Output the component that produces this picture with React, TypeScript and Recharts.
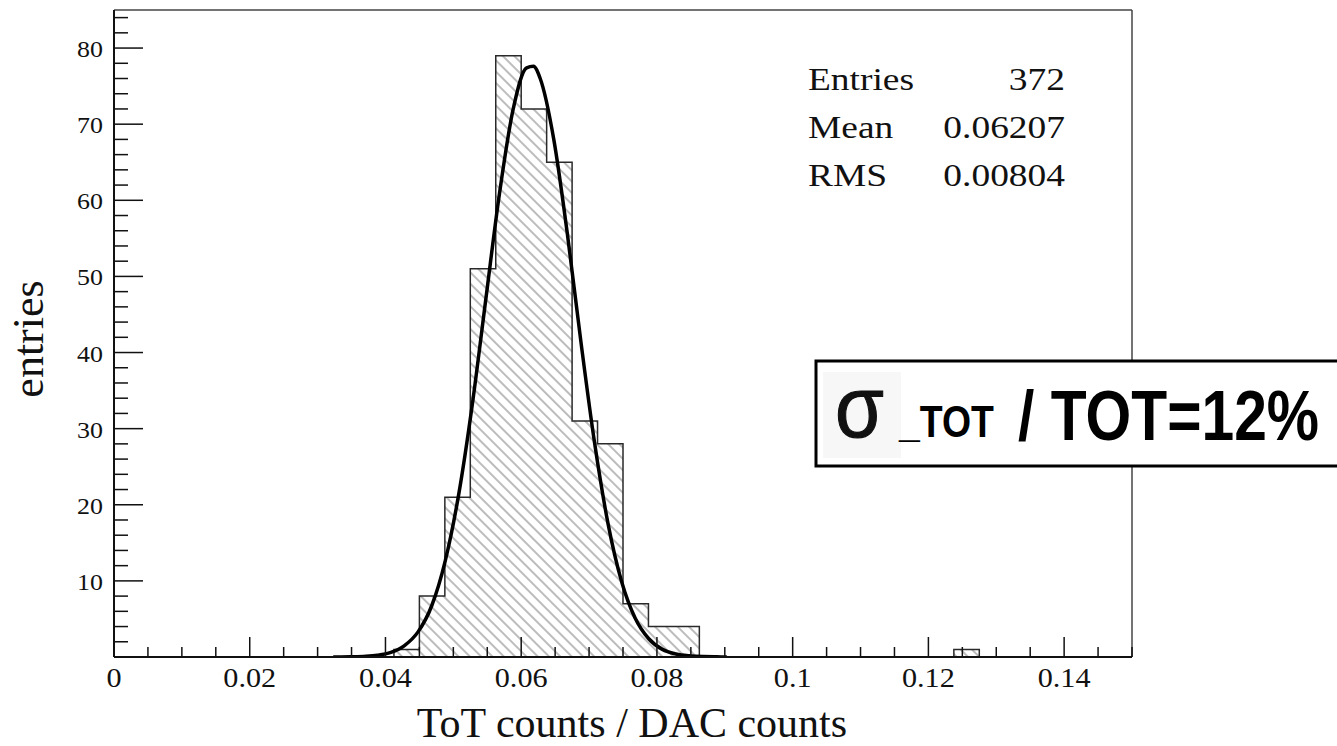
import React from 'react';
import { ComposedChart, XAxis, YAxis, Area, Line, ReferenceLine } from 'recharts';

// histogram: 40 bins over 0 .. 0.15, only filled bins listed
const binWidth = 0.00375;
const binLow = [0.04125, 0.045, 0.04875, 0.0525, 0.05625, 0.06, 0.06375, 0.0675, 0.07125, 0.075, 0.07875, 0.0825, 0.12375];
const binCount = [1, 8, 21, 51, 79, 72, 65, 31, 28, 7, 4, 4, 1];

// gaussian fit curve
const fitX = [0.0323, 0.0348, 0.0368, 0.0388, 0.0408, 0.0428, 0.0448, 0.0468, 0.0488, 0.0508, 0.0528, 0.0548, 0.0568, 0.0588, 0.0608, 0.0618, 0.0628, 0.0648, 0.0668, 0.0688, 0.0708, 0.0728, 0.0748, 0.0768, 0.0788, 0.0808, 0.0828, 0.0848, 0.0868, 0.0888, 0.0903];
const fitY = [0.01, 0.02, 0.08, 0.22, 0.6, 1.5, 3.3, 6.7, 12.6, 21.4, 33.2, 47.1, 60.9, 71.9, 77.4, 77.6, 76.0, 68.0, 55.6, 41.4, 28.2, 17.5, 9.9, 5.1, 2.4, 1.0, 0.4, 0.15, 0.05, 0.02, 0.01];

const xMajor = [0, 0.02, 0.04, 0.06, 0.08, 0.1, 0.12, 0.14];
const xLabels = ['0', '0.02', '0.04', '0.06', '0.08', '0.1', '0.12', '0.14'];
const yMajor = [10, 20, 30, 40, 50, 60, 70, 80];

const statLabels = ['Entries', 'Mean', 'RMS'];
const statValues = ['372', '0.06207', '0.00804'];

const X_MAX = 0.15;
const Y_MAX = 85;
const nBins = Math.round(X_MAX / binWidth);

const counts: number[] = new Array(nBins).fill(0);
binLow.forEach((lo, i) => {
  counts[Math.round(lo / binWidth)] = binCount[i];
});
const histData = [];
for (let i = 0; i <= nBins; i++) {
  histData.push({ x: i * binWidth, h: i < nBins ? counts[i] : 0 });
}
const fitData = fitX.map((x, i) => ({ x, y: fitY[i] }));

const xTicks: number[] = [];
for (let i = 0; i <= 30; i++) xTicks.push(+(i * 0.005).toFixed(4));
const yTicks: number[] = [];
for (let v = 0; v <= 84; v += 2) yTicks.push(v);

const serif = '"Liberation Serif", "Times New Roman", serif';
const sans = '"Liberation Sans", Arial, sans-serif';

const XTick = (props: any) => {
  const { x, y, payload } = props;
  const idx = xMajor.findIndex((m) => Math.abs(m - payload.value) < 1e-6);
  const major = idx >= 0;
  return (
    <g>
      <line x1={x} x2={x} y1={y} y2={y - (major ? 20 : 10)} stroke="#111" strokeWidth={1.5} />
      {major && (
        <text transform={`translate(${x},${y + 30}) scale(1.12,1)`} textAnchor="middle" fontSize={27} fontFamily={serif} fill="#111">
          {xLabels[idx]}
        </text>
      )}
    </g>
  );
};

const YTick = (props: any) => {
  const { x, y, payload } = props;
  const major = yMajor.includes(payload.value);
  if (payload.value === 0) return <g />;
  return (
    <g>
      <line x1={x} x2={x + (major ? 29 : 14)} y1={y} y2={y} stroke="#111" strokeWidth={1.5} />
      {major && (
        <text transform={`translate(${x - 11},${y + 9}) scale(1.08,1)`} textAnchor="end" fontSize={24} fontFamily={serif} fill="#111">
          {payload.value}
        </text>
      )}
    </g>
  );
};

export default function App() {
  return (
    <div style={{ position: 'absolute', left: 0, top: 0, width: 1337, height: 746, background: '#fff' }}>
      <ComposedChart width={1337} height={746} margin={{ top: 10, right: 205, bottom: 0, left: 0 }}>
        <defs>
          <pattern id="hatch" patternUnits="userSpaceOnUse" width={8} height={8} patternTransform="rotate(-45)">
            <line x1={4} y1={0} x2={4} y2={8} stroke="#858585" strokeWidth={1.1} />
          </pattern>
        </defs>
        <XAxis
          type="number"
          dataKey="x"
          domain={[0, X_MAX]}
          ticks={xTicks}
          interval={0}
          height={89}
          tickSize={0}
          tickMargin={0}
          tickLine={false}
          tick={XTick}
          axisLine={{ stroke: '#111', strokeWidth: 2 }}
          allowDataOverflow
        />
        <YAxis
          type="number"
          domain={[0, Y_MAX]}
          ticks={yTicks}
          interval={0}
          width={114}
          tickSize={0}
          tickMargin={0}
          tickLine={false}
          tick={YTick}
          axisLine={{ stroke: '#111', strokeWidth: 2 }}
          allowDataOverflow
        />
        <ReferenceLine y={Y_MAX} stroke="#444" strokeWidth={1.5} />
        <ReferenceLine x={X_MAX} stroke="#444" strokeWidth={1.5} />
        <Area
          data={histData}
          type="stepAfter"
          dataKey="h"
          stroke="#2a2a2a"
          strokeWidth={1.5}
          fill="url(#hatch)"
          fillOpacity={1}
          dot={false}
          activeDot={false}
          isAnimationActive={false}
        />
        <Line
          data={fitData}
          type="monotone"
          dataKey="y"
          stroke="#000"
          strokeWidth={3.5}
          dot={false}
          activeDot={false}
          isAnimationActive={false}
        />
      </ComposedChart>
      <svg width={1337} height={746} style={{ position: 'absolute', left: 0, top: 0, pointerEvents: 'none' }}>
        <text transform="translate(43,339) rotate(-90)" textAnchor="middle" fontSize={44} fontFamily={serif} fill="#111">
          entries
        </text>
        <text x={632} y={737} textAnchor="middle" fontSize={42} fontFamily={serif} fill="#111">
          ToT counts / DAC counts
        </text>
        {statLabels.map((s, i) => (
          <g key={s}>
            <text transform={`translate(808,${90 + i * 48}) scale(1.17,1)`} fontSize={32} fontFamily={serif} fill="#111">
              {s}
            </text>
            <text transform={`translate(1065,${90 + i * 48}) scale(1.17,1)`} textAnchor="end" fontSize={32} fontFamily={serif} fill="#111">
              {statValues[i]}
            </text>
          </g>
        ))}
        <rect x={816} y={361} width={540} height={105} fill="#fff" stroke="#000" strokeWidth={3} />
        <rect x={823} y={372} width={78} height={86} fill="#f7f7f7" />
        <text transform="translate(835,437) scale(0.9,1)" fontSize={88} fontFamily={sans} fill="#111" stroke="#111" strokeWidth={1.2}>
          σ
        </text>
        <text transform="translate(899,437) scale(0.85,1)" fontSize={44} fontWeight="bold" fontFamily={sans} fill="#000">
          _TOT
        </text>
        <text transform="translate(1018,440) scale(0.84,1)" fontSize={70} fontWeight="bold" fontFamily={sans} fill="#000">
          / TOT=12%
        </text>
      </svg>
    </div>
  );
}
